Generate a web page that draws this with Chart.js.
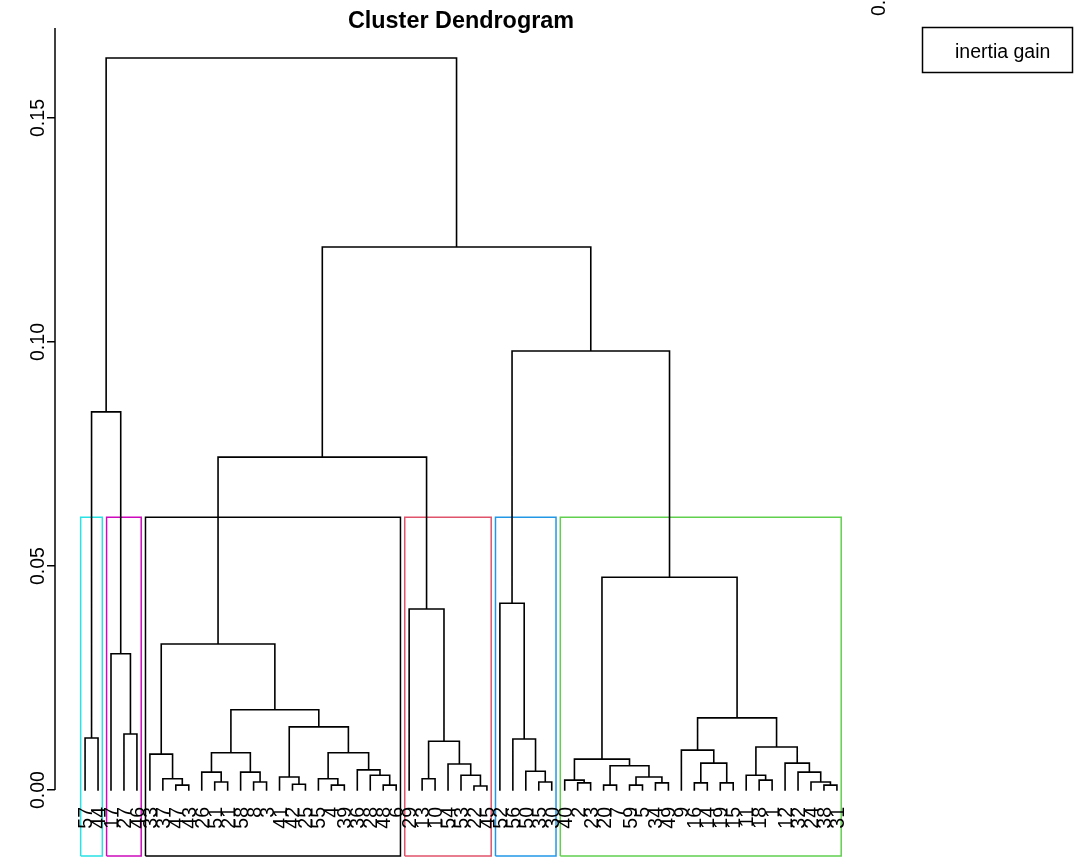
<!DOCTYPE html>
<html><head><meta charset="utf-8">
<script src="https://cdn.jsdelivr.net/npm/chart.js@4.4.1/dist/chart.umd.min.js"></script>
<style>html,body{margin:0;padding:0;background:#fff;overflow:hidden}#wrap{width:1083px;height:858px}</style>
</head><body><div id="wrap"><canvas id="c" width="1083" height="858"></canvas></div>
<script>
// leaf labels in dendrogram order (left to right)
const leafLabels = [57,44, 17,27,46,
  33,37,47,43,26,51,21,58,8,3,41,42,25,55,4,39,36,28,48,6,
  29,13,10,54,53,22,45,
  52,56,50,35,30,
  40,2,23,20,7,59,5,34,49,9,16,14,19,15,11,18,1,12,32,24,38,31];
// merges: negative = leaf position (1-based, in order), positive = earlier merge id
const mergeA = [-1,-4,-3,1,-8,-7,-6,-11,-10,-14,-13,9,-17,-16,-20,-19,-24,-23,-22,16,14,12,7,
  -27,-31,-30,-29,24,-26,23,-36,-35,-34,-33,-39,-38,-41,-43,-45,38,37,36,-48,-50,43,-47,-53,-52,-58,-57,-56,-55,48,46,42,34,30,4];
const mergeB = [-2,-5,2,3,-9,5,6,-12,8,-15,10,11,-18,13,-21,15,-25,17,18,19,20,21,22,
  -28,-32,25,26,27,28,29,-37,31,32,33,-40,35,-42,-44,-46,39,40,41,-49,-51,44,45,-54,47,-59,49,50,51,52,53,54,55,56,57];
const mergeHeight = [0.0116,0.0125,0.0304,0.0844,0.0011,0.0025,0.0080,0.0018,0.0040,0.0018,0.0040,0.0083,
  0.0013,0.0029,0.0011,0.0025,0.0011,0.0033,0.0045,0.0083,0.0141,0.0179,0.0326,
  0.0025,0.0009,0.0033,0.0058,0.0109,0.0404,0.0743,
  0.0018,0.0042,0.0114,0.0417,
  0.0016,0.0022,0.0011,0.0011,0.0016,0.0029,0.0054,0.0069,
  0.0016,0.0016,0.0060,0.0089,0.0022,0.0033,0.0011,0.0018,0.0040,0.0060,0.0096,0.0161,0.0475,
  0.0980,0.1212,0.1634];
const clusterSizes = [2,3,20,7,5,22];
const clusterColors = ['#28E2E5','#CD0BBC','#000000','#DF536B','#2297E6','#61D04F'];
const yTicks = [0, 0.05, 0.10, 0.15];
const titleText = 'Cluster Dendrogram';
const legendText = 'inertia gain';
const cornerText = '0.00';

const Y_MIN = -0.01473, Y_MAX = 0.17009;
const nLeaf = leafLabels.length;
const xPad = (nLeaf - 1) * 0.04;

// build dendrogram polyline
const nodeX = [];
function ref(r){ return r < 0 ? {x:-r, h:0} : {x:nodeX[r-1], h:mergeHeight[r-1]}; }
const dendroPts = [];
for (let i = 0; i < mergeHeight.length; i++) {
  const a = ref(mergeA[i]), b = ref(mergeB[i]), h = mergeHeight[i];
  nodeX[i] = (a.x + b.x) / 2;
  dendroPts.push({x:a.x,y:a.h},{x:a.x,y:h},{x:b.x,y:h},{x:b.x,y:b.h},{x:b.x,y:null});
}
const sortedH = mergeHeight.slice().sort((p,q)=>q-p);
const k = clusterSizes.length;
const cutH = (sortedH[k-2] + sortedH[k-1]) / 2;

const rectSets = [];
let cum = 0;
clusterSizes.forEach((s, i) => {
  const l = cum + 0.66, r = cum + s + 0.33;
  rectSets.push({
    data:[{x:l,y:Y_MIN},{x:l,y:cutH},{x:r,y:cutH},{x:r,y:Y_MIN},{x:l,y:Y_MIN}],
    showLine:true, borderColor:clusterColors[i], borderWidth:1.5, pointRadius:0, tension:0,
    borderJoinStyle:'miter', clip:false
  });
  cum += s;
});

const FONT = '"Liberation Sans", Arial, Helvetica, sans-serif';
const BASE = 19.5;
const textPlugin = {
  id:'texts',
  afterDraw(chart){
    const ctx = chart.ctx, ca = chart.chartArea;
    const xs = chart.scales.x, ys = chart.scales.y;
    ctx.save();
    ctx.fillStyle = '#000';
    // title
    ctx.font = 'bold ' + (BASE*1.2) + 'px ' + FONT;
    ctx.textAlign = 'center'; ctx.textBaseline = 'alphabetic';
    ctx.fillText(titleText, (ca.left + ca.right)/2, 28);
    // y axis line
    ctx.strokeStyle = '#000'; ctx.lineWidth = 1.5;
    ctx.beginPath();
    ctx.moveTo(ca.left, ys.getPixelForValue(yTicks[0]));
    ctx.lineTo(ca.left, ca.top);
    ctx.stroke();
    // y tick labels
    ctx.font = BASE + 'px ' + FONT;
    yTicks.forEach(v => {
      const y = ys.getPixelForValue(v);
      ctx.save(); ctx.translate(44, y); ctx.rotate(-Math.PI/2);
      ctx.textAlign = 'center'; ctx.fillText(v.toFixed(2), 0, 0); ctx.restore();
    });
    // leaf labels
    leafLabels.forEach((lab, i) => {
      const x = xs.getPixelForValue(i + 1);
      ctx.save(); ctx.translate(x + 7, 807); ctx.rotate(-Math.PI/2);
      ctx.textAlign = 'right'; ctx.fillText(String(lab), 0, 0); ctx.restore();
    });
    // clipped corner label
    ctx.save(); ctx.translate(885, 16); ctx.rotate(-Math.PI/2);
    ctx.textAlign = 'left'; ctx.fillText(cornerText, 0, 0); ctx.restore();
    // legend
    ctx.lineWidth = 1.5;
    ctx.strokeRect(922.5, 27.5, 150, 45);
    ctx.textAlign = 'left';
    ctx.fillText(legendText, 955, 58);
    ctx.restore();
  }
};

new Chart(document.getElementById('c'), {
  type:'scatter',
  data:{datasets:[{
    data:dendroPts, showLine:true, borderColor:'#000', borderWidth:1.6, pointRadius:0,
    tension:0, spanGaps:false, borderJoinStyle:'miter', borderCapStyle:'square', clip:false
  }, ...rectSets]},
  options:{
    responsive:false, animation:false, devicePixelRatio:1,
    layout:{padding:{top:28, right:216, bottom:2, left:0}},
    plugins:{legend:{display:false}, tooltip:{enabled:false}, title:{display:false}},
    scales:{
      x:{type:'linear', min:1 - xPad, max:nLeaf + xPad, display:false},
      y:{type:'linear', min:Y_MIN, max:Y_MAX,
         afterFit(s){ s.width = 55; },
         afterBuildTicks(s){ s.ticks = yTicks.map(v => ({value:v})); },
         grid:{drawOnChartArea:false, drawTicks:true, tickLength:8, color:'#000', lineWidth:1.5},
         border:{display:false},
         ticks:{display:false}}
    }
  },
  plugins:[textPlugin]
});
</script></body></html>
